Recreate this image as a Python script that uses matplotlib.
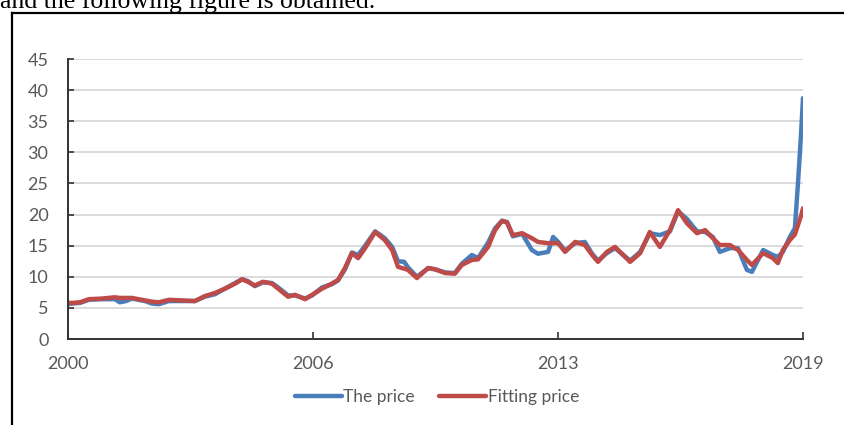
import matplotlib.pyplot as plt
from matplotlib.lines import Line2D

# decimal years and monthly prices read along the series
years = [2000.00, 2000.10, 2000.31, 2000.54, 2000.88, 2001.21, 2001.34, 2001.50,
         2001.65, 2001.99, 2002.17, 2002.35, 2002.61, 2002.95, 2003.28, 2003.54,
         2003.80, 2004.06, 2004.32, 2004.50, 2004.65, 2004.83, 2005.04, 2005.27,
         2005.43, 2005.69, 2005.87, 2006.13, 2006.31, 2006.57, 2006.82, 2006.98,
         2007.16, 2007.34, 2007.50, 2007.68, 2007.94, 2008.19, 2008.38, 2008.53,
         2008.69, 2008.79, 2009.02, 2009.31, 2009.49, 2009.75, 2010.00, 2010.18,
         2010.44, 2010.60, 2010.86, 2011.04, 2011.22, 2011.35, 2011.50, 2011.74,
         2011.99, 2012.15, 2012.41, 2012.54, 2012.67, 2012.85, 2013.11, 2013.36,
         2013.55, 2013.70, 2013.93, 2014.14, 2014.53, 2014.79, 2015.04, 2015.30,
         2015.56, 2015.77, 2016.00, 2016.26, 2016.47, 2016.67, 2016.85, 2017.11,
         2017.32, 2017.55, 2017.68, 2017.97, 2018.22, 2018.35, 2018.48, 2018.66,
         2018.79, 2018.87, 2018.95, 2019.00]

price = [5.6, 5.7, 5.8, 6.3, 6.4, 6.4, 5.9, 6.1,
         6.5, 6.1, 5.7, 5.6, 6.1, 6.1, 6.1, 6.8,
         7.2, 8.1, 9.0, 9.6, 9.3, 8.5, 9.1, 9.0,
         8.3, 7.0, 7.0, 6.5, 7.0, 8.3, 8.8, 9.4,
         11.2, 13.9, 13.5, 15.0, 17.3, 16.2, 14.8, 12.5,
         12.4, 11.5, 10.0, 11.4, 11.2, 10.7, 10.6, 12.1,
         13.5, 13.0, 15.5, 17.8, 19.0, 18.8, 16.5, 16.9,
         14.3, 13.7, 14.0, 16.4, 15.6, 14.2, 15.4, 15.6,
         13.7, 12.6, 13.8, 14.6, 12.6, 14.0, 17.0, 16.7,
         17.3, 20.5, 19.3, 17.3, 17.2, 16.4, 14.0, 14.6,
         14.6, 11.1, 10.8, 14.3, 13.5, 13.2, 14.0, 16.4,
         17.8, 25.0, 33.0, 38.7]

fitted = [5.8, 5.8, 5.9, 6.4, 6.5, 6.7, 6.6, 6.6,
          6.6, 6.2, 6.0, 5.9, 6.3, 6.2, 6.1, 6.9,
          7.4, 8.1, 8.9, 9.6, 9.2, 8.6, 9.2, 8.9,
          8.1, 6.8, 7.1, 6.4, 7.1, 8.1, 8.9, 9.5,
          11.4, 13.8, 13.0, 14.6, 17.2, 15.9, 14.3, 11.6,
          11.3, 11.1, 9.8, 11.4, 11.2, 10.6, 10.5, 11.9,
          12.7, 12.8, 14.8, 17.5, 19.0, 18.7, 16.7, 17.0,
          16.2, 15.6, 15.4, 15.4, 15.4, 14.0, 15.6, 15.1,
          13.5, 12.4, 14.0, 14.8, 12.4, 13.8, 17.2, 14.8,
          17.5, 20.7, 18.6, 17.0, 17.5, 16.2, 15.1, 15.1,
          14.3, 12.7, 11.9, 13.8, 13.0, 12.2, 14.3, 15.9,
          16.8, 18.3, 19.8, 21.0]

tick_pos = [2000, 2000 + 19 / 3, 2000 + 38 / 3, 2019]
tick_labels = ["2000", "2006", "2013", "2019"]

plt.rcParams['font.family'] = ['Lato', 'DejaVu Sans']

fig = plt.figure(figsize=(8.44, 4.25), dpi=100)
ax = fig.add_axes([68 / 844, 1 - 339 / 425, 735 / 844, 280 / 425])

ax.plot(years, price, color='#4a7ebb', lw=3.2, label='The price',
        solid_capstyle='round', solid_joinstyle='round')
ax.plot(years, fitted, color='#be4b48', lw=3.2, label='Fitting price',
        solid_capstyle='round', solid_joinstyle='round')

ax.set_xlim(2000, 2019)
ax.set_ylim(0, 45)
ax.set_yticks(range(0, 46, 5))
ax.set_xticks(tick_pos)
ax.set_xticklabels(tick_labels)
ax.grid(axis='y', color='#d9d9d9', lw=1.3)
ax.set_axisbelow(True)

for s in ['top', 'right']:
    ax.spines[s].set_visible(False)
for s in ['left', 'bottom']:
    ax.spines[s].set_color('#333333')
    ax.spines[s].set_linewidth(1.4)

ax.tick_params(axis='y', direction='in', length=4, width=1.2, color='#333333',
               pad=14, labelsize=13, labelcolor='#595959')
ax.tick_params(axis='x', direction='in', length=5, width=1.2, color='#333333',
               pad=12, labelsize=13, labelcolor='#595959')

leg = fig.legend(loc='center', bbox_to_anchor=(437 / 844, 1 - 397 / 425), ncol=2,
                 frameon=False, fontsize=12.5, handlelength=2.7, handletextpad=0.1,
                 columnspacing=1.4)
for t in leg.get_texts():
    t.set_color('#595959')

# surrounding frame of the figure box and the sentence above it
fig.add_artist(Line2D([11.5 / 844, 11.5 / 844], [0, 1 - 12.5 / 425],
                      transform=fig.transFigure, color='black', lw=1.6))
fig.add_artist(Line2D([11.5 / 844, 1], [1 - 12.5 / 425, 1 - 12.5 / 425],
                      transform=fig.transFigure, color='black', lw=1.6))
fig.text(0.0, 1 - 8 / 425, "and the following figure is obtained.",
         family='Liberation Serif', fontsize=18.5, va='baseline', ha='left')

fig.savefig('out.png', dpi=100)
